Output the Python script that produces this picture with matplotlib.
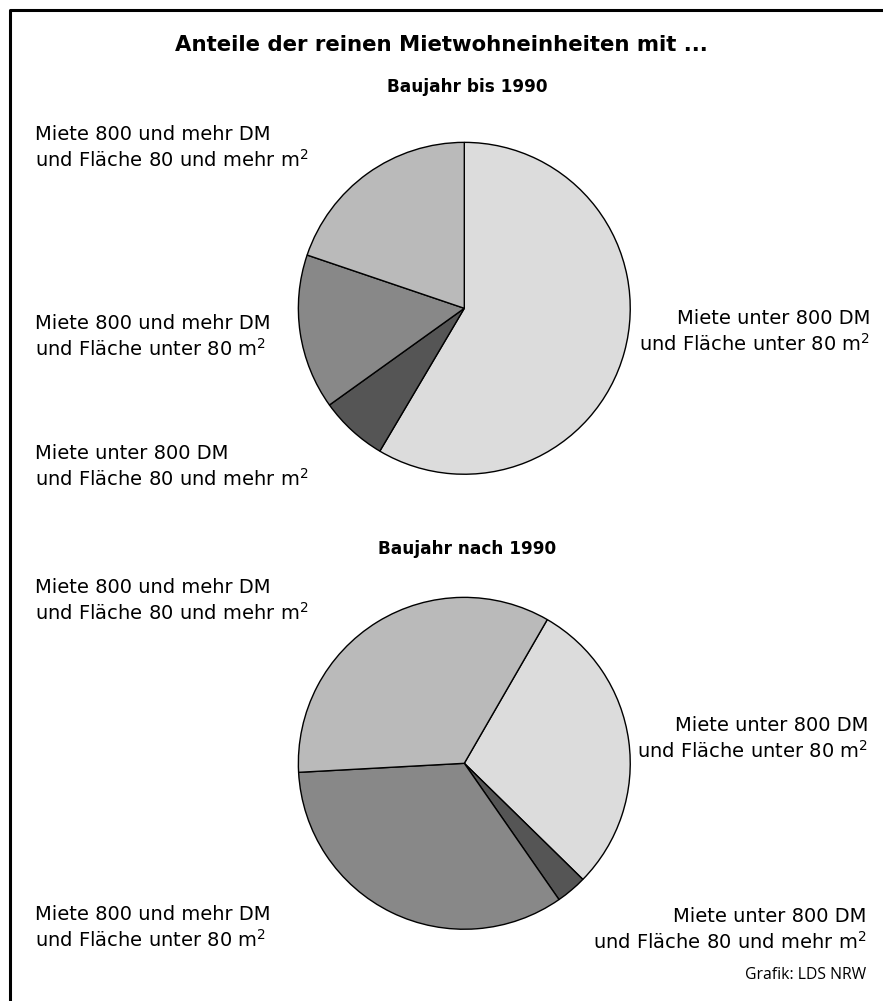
import matplotlib
matplotlib.use("Agg")
import matplotlib.pyplot as plt
from matplotlib.lines import Line2D

plt.rcParams["font.family"] = ["DejaVu Sans"]
plt.rcParams["mathtext.default"] = "regular"

W, H = 883, 1001

# shares in percent, clockwise from the start angle
categories = [
    "Miete unter 800 DM\nund Fläche unter 80 m$^2$",
    "Miete unter 800 DM\nund Fläche 80 und mehr m$^2$",
    "Miete 800 und mehr DM\nund Fläche unter 80 m$^2$",
    "Miete 800 und mehr DM\nund Fläche 80 und mehr m$^2$",
]
bis_1990 = [58.5, 6.6, 15.1, 19.8]
nach_1990 = [29.0, 3.0, 33.8, 34.2]
colors = ["#dcdcdc", "#555555", "#888888", "#bababa"]


def px(x, y):
    return x / W, 1 - y / H


fig = plt.figure(figsize=(W / 100, H / 100), dpi=100)

# frame (only top and left edge lie inside the image)
fig.add_artist(Line2D([10 / W, 10 / W, 1.0], [0.0, 1 - 10 / H, 1 - 10 / H],
                      transform=fig.transFigure, color="black", lw=2.2))


def draw_pie(values, cx, cy, r, start):
    l, b = px(cx - r, cy + r)
    ax = fig.add_axes([l, b, 2 * r / W, 2 * r / H])
    ax.pie(values, colors=colors, startangle=start, counterclock=False,
           wedgeprops=dict(edgecolor="black", linewidth=1.0))
    ax.set_xlim(-1.01, 1.01)
    ax.set_ylim(-1.01, 1.01)
    ax.set_aspect("equal")
    ax.axis("off")


draw_pie(bis_1990, 464.3, 308.3, 167.6, 90)
draw_pie(nach_1990, 464.3, 763.3, 167.6, 60)

fig.text(*px(441, 45), "Anteile der reinen Mietwohneinheiten mit ...",
         ha="center", va="center", fontsize=15.3, fontweight="bold")
fig.text(*px(467, 87), "Baujahr bis 1990", ha="center", va="center",
         fontsize=12.2, fontweight="bold")
fig.text(*px(467, 549), "Baujahr nach 1990", ha="center", va="center",
         fontsize=12.2, fontweight="bold")

lab = dict(fontsize=14, va="center", linespacing=1.3)
# labels of the upper pie
fig.text(*px(35, 148), categories[3], ha="left", **lab)
fig.text(*px(35, 337), categories[2], ha="left", **lab)
fig.text(*px(35, 467), categories[1], ha="left", **lab)
fig.text(*px(870, 332), categories[0], ha="right", **lab)
# labels of the lower pie
fig.text(*px(35, 601), categories[3], ha="left", **lab)
fig.text(*px(868, 739), categories[0], ha="right", **lab)
fig.text(*px(35, 928), categories[2], ha="left", **lab)
fig.text(*px(866, 930), categories[1], ha="right", **lab)

fig.text(*px(866, 975), "Grafik: LDS NRW", ha="right", va="center",
         fontsize=11.3, family=["Open Sans", "DejaVu Sans"])

fig.savefig("out.png", dpi=100, facecolor="white")
